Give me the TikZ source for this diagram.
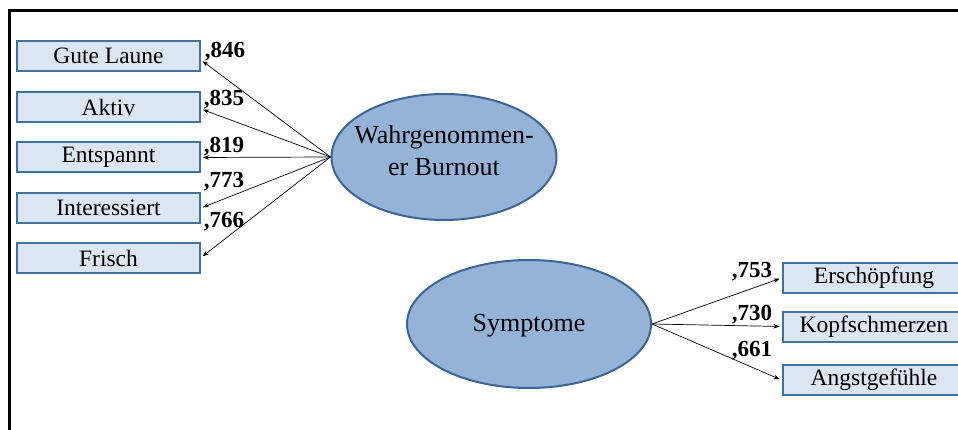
\documentclass[tikz,border=0pt]{standalone}
\usepackage{fontspec}
\setmainfont{Liberation Serif}
\usetikzlibrary{arrows.meta,shapes.geometric}
\definecolor{boxfill}{HTML}{DCE6F2}
\definecolor{boxline}{HTML}{41719C}
\definecolor{latfill}{HTML}{95B3D7}
\definecolor{latline}{HTML}{3C6494}
\begin{document}
\begin{tikzpicture}[x=1pt,y=-1pt,
  indicator/.style={draw=boxline, fill=boxfill, line width=2pt,
    minimum width=183pt, minimum height=30pt, inner sep=0pt,
    font=\fontsize{23.5}{28}\selectfont},
  latent/.style={ellipse, draw=latline, fill=latfill, line width=2pt, inner sep=0pt},
  latentlabel/.style={font=\fontsize{26}{32}\selectfont, align=center, inner sep=0pt},
  loading/.style={-{Stealth[length=6pt,width=4.5pt]}, line width=0.7pt, shorten >=2pt},
  coef/.style={font=\fontsize{23}{28}\selectfont\bfseries, inner sep=0pt}
]
\clip (0,0) rectangle (958,430);
% outer frame (only left and top edges fall inside the page)
\draw[line width=2.5pt] (9.7,470) -- (9.7,10.5) -- (1000,10.5);

% latent variables
\node[latent, minimum width=225pt, minimum height=126pt] (burnout) at (444,157) {};
\node[latentlabel] (burnoutlabel) at (444,151) {Wahrgenommen-\\er Burnout};
\node[latent, minimum width=244pt, minimum height=128pt] (sympt) at (529,324) {};
\node[latentlabel] (symptlabel) at (529,326) {Symptome};

% indicators of perceived burnout
\node[indicator] (gute)   at (108.5,56)    {Gute Laune};
\node[indicator] (aktiv)  at (108.5,107)   {Aktiv};
\node[indicator] (entsp)  at (108.5,157.5) {Entspannt};
\node[indicator] (inter)  at (108.5,208)   {Interessiert};
\node[indicator] (frisch) at (108.5,258.5) {Frisch};

% indicators of symptoms
\node[indicator] (ersch) at (874,278)   {Erschöpfung};
\node[indicator] (kopf)  at (874,326.5) {Kopfschmerzen};
\node[indicator] (angst) at (874,380)   {Angstgefühle};

% loadings
\draw[loading] (burnout.west) -- ([yshift=-4pt]gute.east);
\draw[loading] (burnout.west) -- ([yshift=-2pt]aktiv.east);
\draw[loading] (burnout.west) -- (entsp.east);
\draw[loading] (burnout.west) -- (inter.east);
\draw[loading] (burnout.west) -- ([yshift=1pt]frisch.east);
\draw[loading] (sympt.east) -- (ersch.west);
\draw[loading] (sympt.east) -- (kopf.west);
\draw[loading] (sympt.east) -- (angst.west);

% coefficients
\node[coef] (c846) at (225,52)  {,846};
\node[coef] (c835) at (224,100) {,835};
\node[coef] (c819) at (224,147) {,819};
\node[coef] (c773) at (224,182) {,773};
\node[coef] (c766) at (224,222) {,766};
\node[coef] (c753) at (752,272) {,753};
\node[coef] (c730) at (752,315) {,730};
\node[coef] (c661) at (752,351) {,661};
\end{tikzpicture}
\end{document}
